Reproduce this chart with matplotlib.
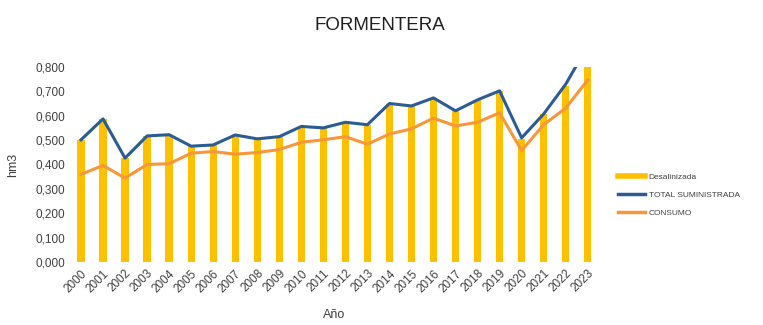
import matplotlib
matplotlib.use("Agg")
import matplotlib.pyplot as plt
from matplotlib.lines import Line2D
from matplotlib.ticker import FuncFormatter

years = [str(y) for y in range(2000, 2024)]
desalinizada = [0.501, 0.587, 0.426, 0.517, 0.522, 0.475, 0.480, 0.521, 0.505, 0.514,
                0.556, 0.550, 0.569, 0.560, 0.650, 0.638, 0.671, 0.620, 0.664, 0.702,
                0.505, 0.607, 0.722, 0.880]
total_suministrada = [0.501, 0.587, 0.426, 0.517, 0.522, 0.475, 0.480, 0.521, 0.505, 0.514,
                      0.556, 0.550, 0.573, 0.563, 0.650, 0.640, 0.673, 0.620, 0.665, 0.702,
                      0.509, 0.607, 0.729, 0.886]
consumo = [0.359, 0.396, 0.344, 0.400, 0.403, 0.446, 0.453, 0.442, 0.449, 0.461,
           0.491, 0.501, 0.514, 0.483, 0.525, 0.546, 0.590, 0.558, 0.573, 0.612,
           0.457, 0.563, 0.631, 0.746]

plt.rcParams['font.family'] = ['Liberation Sans', 'DejaVu Sans']

c_bar = '#FFC000'
c_total = '#2B5C94'
c_cons = '#F7963B'

fig = plt.figure(figsize=(7.63, 3.25), dpi=100)
ax = fig.add_axes([0.0917, 0.194, 0.693, 0.6])

x = list(range(len(years)))
ax.bar(x, desalinizada, width=0.33, color=c_bar, zorder=1)
ax.plot(x, total_suministrada, color=c_total, lw=2.2, zorder=3)
ax.plot(x, consumo, color=c_cons, lw=2.2, zorder=2)

ax.set_xlim(-0.5, len(years) - 0.5)
ax.set_ylim(0, 0.8)
ax.set_yticks([i / 10 for i in range(9)])
ax.yaxis.set_major_formatter(FuncFormatter(lambda v, p: f"{v:.3f}".replace('.', ',')))
ax.set_xticks(x)
ax.set_xticklabels(years, rotation=45, ha='right', rotation_mode='anchor')
ax.tick_params(axis='both', length=0, labelsize=8.5, colors='#404040')
ax.tick_params(axis='x', pad=4)
for s in ax.spines.values():
    s.set_visible(False)

ax.set_ylabel('hm3', fontsize=9, color='#404040', labelpad=12)
ax.set_xlabel('Año', fontsize=9, color='#404040', labelpad=10)
fig.text(0.498, 0.92, 'FORMENTERA', ha='center', va='center', fontsize=13.5, color='#202020')

handles = [Line2D([0], [0], color=c_bar, lw=4),
           Line2D([0], [0], color=c_total, lw=2.5),
           Line2D([0], [0], color=c_cons, lw=2.5)]
labels = ['Desalinizada', 'TOTAL SUMINISTRADA', 'CONSUMO']
fig.legend(handles, labels, loc='center left', bbox_to_anchor=(0.800, 0.40),
           frameon=False, fontsize=6.0, handlelength=3.3, handletextpad=0.4,
           labelspacing=1.25, labelcolor='#404040')

fig.savefig('out.png', dpi=100)
